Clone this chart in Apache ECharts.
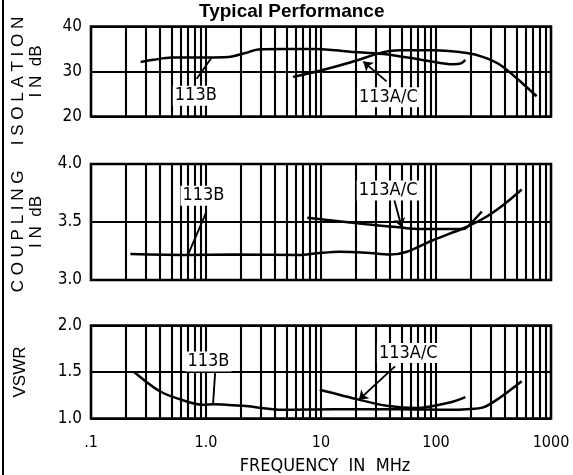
<!DOCTYPE html>
<html>
<head>
<meta charset="utf-8">
<script src="https://cdn.jsdelivr.net/npm/echarts@6/dist/echarts.min.js"></script>
<style>
html,body{margin:0;padding:0;background:#fff;}
#chart{width:573px;height:475px;}
</style>
</head>
<body>
<div id="chart"></div>
<script>
// ---------- data ----------
const xTickValues = [0.1, 1, 10, 100, 1000];
const xTickLabels = ['.1', '1.0', '10', '100', '1000'];
const gridFreqs = [0.2,0.3,0.4,0.5,0.6,0.7,0.8,0.9,1,2,3,4,5,6,7,8,9,10,20,30,40,50,60,70,80,90,100,200,300,400,500,600,700,800,900];

const isoTicks = ['20', '30', '40'];
const cplTicks = ['3.0', '3.5', '4.0'];
const vswrTicks = ['1.0', '1.5', '2.0'];

// Isolation (dB)
const isoFreqB = [0.27, 0.35, 0.5, 1.0, 1.56, 2.2, 2.85, 4.7, 9.2, 17.9, 34.8, 68, 108, 141, 165, 180];
const isoValB  = [32.1, 32.6, 33.1, 33.1, 33.2, 34.1, 34.9, 35.0, 35.0, 34.4, 33.9, 32.8, 31.9, 31.6, 31.8, 32.6];
const isoFreqAC = [5.7, 9.2, 17.9, 34.8, 48.6, 95, 185, 258, 360, 503, 750];
const isoValAC  = [28.8, 30.0, 32.0, 34.3, 34.7, 34.7, 34.1, 33.2, 31.5, 28.5, 24.5];

// Coupling (dB)
const cplFreqB = [0.22, 0.68, 1.73, 6.5, 9.2, 14.6, 24.9, 40, 56, 95, 173, 258, 385, 556];
const cplValB  = [3.224, 3.216, 3.22, 3.216, 3.23, 3.244, 3.235, 3.22, 3.244, 3.345, 3.446, 3.53, 3.647, 3.78];
const cplFreqAC = [7.6, 24.9, 48, 72, 120, 173, 211, 250];
const cplValAC  = [3.537, 3.48, 3.454, 3.44, 3.44, 3.44, 3.51, 3.59];

// VSWR
const vswrFreqB = [0.237, 0.4, 0.68, 0.95, 1.15, 1.52, 2.1, 4.7, 12.8, 48, 132, 185, 258, 356, 556];
const vswrValB  = [1.50, 1.29, 1.183, 1.147, 1.152, 1.147, 1.137, 1.094, 1.10, 1.10, 1.094, 1.10, 1.12, 1.22, 1.40];
const vswrFreqAC = [9.76, 21.7, 37.2, 68, 132, 180];
const vswrValAC  = [1.309, 1.20, 1.137, 1.112, 1.172, 1.23];

// Annotations (data coordinates): label text, label point, leader start, leader end
const annoText = ['113B', '113A/C'];
const isoLabelAt = [[0.815, 24.6], [38.5, 24.3]];
const isoLeaders = [[[0.83, 28.4], [1.12, 33.1]], [[37.2, 27.8], [23.3, 32.2]]];
const cplLabelAt = [[0.95, 3.727], [38.3, 3.772]];
const cplLeaders = [[[1.01, 3.589], [0.70, 3.22]], [[42.6, 3.718], [50.3, 3.454]]];
const vswrLabelAt = [[1.05, 1.613], [57.4, 1.703]];
const vswrLeaders = [[[1.2, 1.488], [1.15, 1.147]], [[44, 1.56], [21.3, 1.20]]];
const leaderArrow = [false, true];

// ---------- build ----------
const TECH = '"DejaVu Sans Condensed", "Liberation Sans Narrow", sans-serif';
const SANS = '"Liberation Sans", Arial, sans-serif';
const pairs = (xs, ys) => xs.map((x, i) => [x, ys[i]]);

const gridBase = {left: 91, right: 22, show: true, borderColor: '#000', borderWidth: 2.6,
  backgroundColor: 'transparent', containLabel: false, outerBoundsMode: 'none'};
const grids = [
  Object.assign({top: 26.5, height: 90}, gridBase),
  Object.assign({top: 164, height: 116}, gridBase),
  Object.assign({top: 325.5, height: 93}, gridBase)
];

function xAxisFor(i) {
  return {
    type: 'log', logBase: 10, gridIndex: i, min: 0.1, max: 1000,
    axisLine: {show: false}, axisTick: {show: false}, splitLine: {show: false},
    axisLabel: {
      show: i === 2, margin: 16, color: '#000', fontFamily: TECH, fontSize: 16,
      formatter: v => xTickLabels[Math.round(Math.log10(v)) + 1]
    },
    name: i === 2 ? 'FREQUENCY  IN  MHz' : '',
    nameLocation: 'middle', nameGap: 39,
    nameTextStyle: {color: '#000', fontFamily: TECH, fontSize: 18, padding: [0, 0, 0, 8]}
  };
}

function yAxisFor(i, min, max, interval, labels, name, gap) {
  return {
    type: 'value', gridIndex: i, min: min, max: max, interval: interval,
    axisLine: {show: false}, axisTick: {show: false},
    splitLine: {show: true, lineStyle: {color: '#000', width: 2.2}},
    axisLabel: {
      margin: 9, color: '#000', fontFamily: TECH, fontSize: 17,
      formatter: v => labels[Math.round((v - min) / interval)]
    },
    name: name, nameLocation: 'middle', nameRotate: 90, nameGap: gap,
    nameTextStyle: {color: '#000', fontFamily: SANS, fontSize: 17, lineHeight: 18}
  };
}

function curve(i, data, extra) {
  return Object.assign({
    type: 'line', xAxisIndex: i, yAxisIndex: i, data: data,
    symbol: 'none', smooth: 0.3, z: 3, silent: true,
    lineStyle: {color: '#000', width: 2.5}
  }, extra || {});
}

function gridMarkLine() {
  return {
    silent: true, z: 1, symbol: ['none', 'none'], animation: false,
    label: {show: false},
    lineStyle: {color: '#000', width: 2.1, type: 'solid'},
    emphasis: {disabled: true},
    data: gridFreqs.map(f => ({xAxis: f}))
  };
}

function annoMarkers(labelAt, leaders) {
  return {
    markLine: {
      silent: true, z: 6, animation: false, label: {show: false},
      lineStyle: {color: '#000', width: 1.9, type: 'solid'},
      emphasis: {disabled: true},
      data: leaders.map((seg, k) => [
        {coord: seg[0], symbol: 'none'},
        {coord: seg[1], symbol: leaderArrow[k] ? 'arrow' : 'none', symbolSize: 9}
      ])
    },
    markPoint: {
      silent: true, z: 7, animation: false,
      symbol: 'circle', symbolSize: 1, itemStyle: {color: 'rgba(0,0,0,0)'},
      label: {
        show: true, position: 'inside', formatter: '{b}', color: '#000',
        fontFamily: TECH, fontSize: 18, backgroundColor: '#fff', padding: [1, 2]
      },
      data: labelAt.map((p, k) => ({name: annoText[k], coord: p}))
    }
  };
}

const series = [
  curve(0, pairs(isoFreqB, isoValB), {markLine: gridMarkLine()}),
  curve(0, pairs(isoFreqAC, isoValAC), annoMarkers(isoLabelAt, isoLeaders)),
  curve(1, pairs(cplFreqB, cplValB), {markLine: gridMarkLine()}),
  curve(1, pairs(cplFreqAC, cplValAC), annoMarkers(cplLabelAt, cplLeaders)),
  curve(2, pairs(vswrFreqB, vswrValB), {markLine: gridMarkLine()}),
  curve(2, pairs(vswrFreqAC, vswrValAC), annoMarkers(vswrLabelAt, vswrLeaders))
];

const chart = echarts.init(document.getElementById('chart'), null, {renderer: 'canvas'});
chart.setOption({
  animation: false,
  backgroundColor: '#fff',
  title: {
    text: 'Typical Performance', left: 194, top: -3,
    textStyle: {color: '#000', fontFamily: SANS, fontWeight: 'bold', fontSize: 19}
  },
  graphic: [{
    type: 'line', shape: {x1: 3, y1: 0, x2: 3, y2: 475},
    style: {stroke: '#000', lineWidth: 2}, silent: true
  }],
  grid: grids,
  xAxis: [xAxisFor(0), xAxisFor(1), xAxisFor(2)],
  yAxis: [
    yAxisFor(0, 20, 40, 10, isoTicks, 'I S O L A T I O N    \nI N  dB', 46),
    yAxisFor(1, 3, 4, 0.5, cplTicks, 'C O U P L I N G    \nI N  dB', 46),
    yAxisFor(2, 1, 2, 0.5, vswrTicks, 'VSWR', 62)
  ],
  series: series
});
</script>
</body>
</html>
